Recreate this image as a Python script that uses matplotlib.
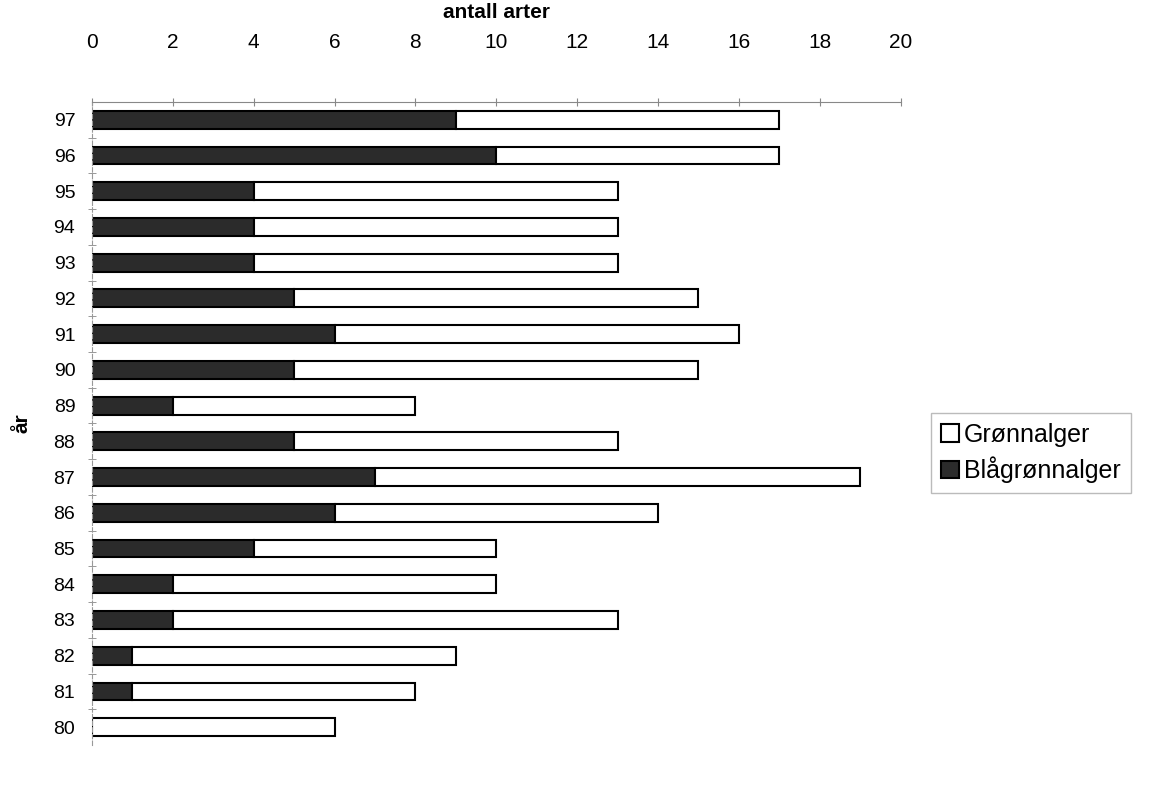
import matplotlib.pyplot as plt
import numpy as np

years = ['80', '81', '82', '83', '84', '85', '86', '87', '88',
         '89', '90', '91', '92', '93', '94', '95', '96', '97']
blagronn = [0, 1, 1, 2, 2, 4, 6, 7, 5, 2, 5, 6, 5, 4, 4, 4, 10, 9]
gronn = [6, 7, 8, 11, 8, 6, 8, 12, 8, 6, 10, 10, 10, 9, 9, 9, 7, 8]

plt.rcParams['font.family'] = ['Liberation Sans', 'DejaVu Sans']

fig = plt.figure(figsize=(11.6, 7.96), dpi=100)
ax = fig.add_axes([0.0793, 0.064, 0.697, 0.808])

y = np.arange(len(years))
ax.barh(y, blagronn, height=0.5, color='#2b2b2b', edgecolor='black',
        linewidth=1.5, label='Blågrønnalger')
ax.barh(y, gronn, left=blagronn, height=0.5, color='white', edgecolor='black',
        linewidth=1.5, label='Grønnalger')

ax.set_xlim(0, 20)
ax.set_ylim(-0.5, len(years) - 0.5)
ax.set_yticks(y)
ax.set_yticklabels(years)
ax.set_yticks(y[:-1] + 0.5, minor=True)
ax.set_xticks(range(0, 21, 2))

ax.xaxis.tick_top()
ax.xaxis.set_label_position('top')
ax.set_xlabel('antall arter', fontsize=15, fontweight='bold', labelpad=11)
ax.set_ylabel('år', fontsize=15, fontweight='bold', labelpad=16)

for s in ['right', 'bottom']:
    ax.spines[s].set_visible(False)
ax.spines['top'].set_color('#888888')
ax.spines['top'].set_linewidth(0.8)
ax.spines['left'].set_color('#999999')
ax.spines['left'].set_linestyle((0, (4, 2)))
ax.spines['left'].set_linewidth(0.8)

ax.tick_params(axis='x', direction='inout', length=6, color='#888888',
               labelsize=15, pad=33)
ax.tick_params(axis='y', which='major', length=0, labelsize=14, pad=12)
ax.tick_params(axis='y', which='minor', direction='inout', length=6,
               color='#888888')

h, l = ax.get_legend_handles_labels()
leg = fig.legend(h[::-1], l[::-1], loc='center left',
                 bbox_to_anchor=(0.803, 0.431), fontsize=18, frameon=True,
                 fancybox=False, edgecolor='#aaaaaa', handlelength=0.7,
                 handleheight=0.7, handletextpad=0.2, borderpad=0.4,
                 labelspacing=0.4, borderaxespad=0)

fig.savefig('out.png', dpi=100)
